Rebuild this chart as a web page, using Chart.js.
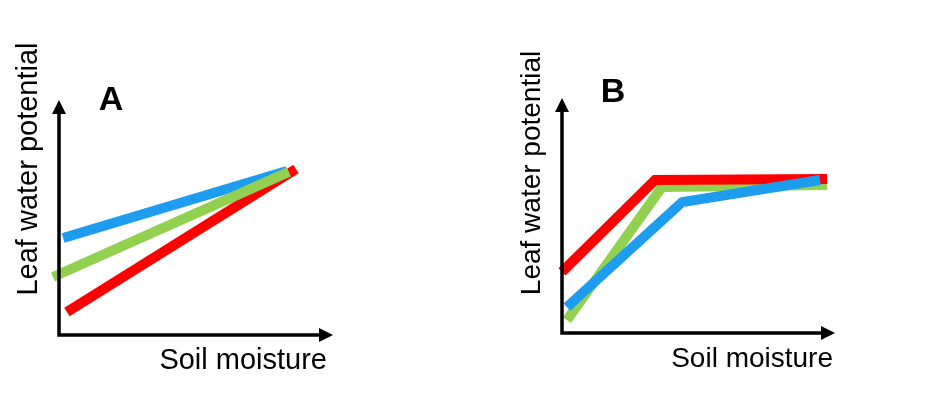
<!DOCTYPE html>
<html>
<head>
<meta charset="utf-8">
<script src="https://cdn.jsdelivr.net/npm/chart.js@4.4.1/dist/chart.umd.min.js"></script>
<style>
  html, body { margin: 0; padding: 0; background: #fff; }
  .wrap { position: relative; width: 925px; height: 395px; }
  .panel { position: absolute; top: 0; height: 395px; }
  #pa { left: 0; width: 462px; }
  #pb { left: 462px; width: 463px; }
</style>
</head>
<body>
<div class="wrap">
  <div class="panel" id="pa"><canvas id="chartA"></canvas></div>
  <div class="panel" id="pb"><canvas id="chartB"></canvas></div>
</div>
<script>
(function () {
    'use strict';

    // ── Data (arbitrary 0–10 units) ───────────────────────────────────────
    const A_BLUE_X  = [0.15, 8.32];
    const A_BLUE_Y  = [4.13, 6.98];
    const A_GREEN_X = [-0.22, 8.39];
    const A_GREEN_Y = [2.47, 6.94];
    const A_RED_X   = [0.29, 8.65];
    const A_RED_Y   = [0.98, 7.06];

    const B_RED_X   = [0.0, 3.41, 9.71];
    const B_RED_Y   = [2.6, 6.51, 6.55];
    const B_GREEN_X = [0.18, 3.66, 9.71];
    const B_GREEN_Y = [0.55, 6.21, 6.3];
    const B_BLUE_X  = [0.18, 4.4, 9.45];
    const B_BLUE_Y  = [1.1, 5.57, 6.51];

    const X_TITLE = 'Soil moisture';
    const Y_TITLE = 'Leaf water potential';

    const COLORS = {
        red:   '#ff0000',
        green: '#92d050',
        blue:  '#1e9cf0',
        axis:  '#000000',
    };

    const pts = (xs, ys) => xs.map((x, i) => ({ x, y: ys[i] }));

    const line = (xs, ys, color, order) => ({
        data:            pts(xs, ys),
        borderColor:     color,
        backgroundColor: color,
        borderWidth:     10,
        borderCapStyle:  'butt',
        borderJoinStyle: 'miter',
        pointRadius:     0,
        showLine:        true,
        tension:         0,
        clip:            false,
        order,
    });

    // ── Axes with arrow heads + panel text ─────────────────────────────────
    const sketchAxes = {
        id: 'sketchAxes',
        afterDatasetsDraw(chart, args, opts) {
            const { ctx, chartArea: a } = chart;
            ctx.save();
            ctx.strokeStyle = COLORS.axis;
            ctx.fillStyle   = COLORS.axis;
            ctx.lineWidth   = 3.5;
            ctx.beginPath();
            ctx.moveTo(a.left, a.top + 8);
            ctx.lineTo(a.left, a.bottom);
            ctx.lineTo(a.right - 8, a.bottom);
            ctx.stroke();
            // up arrow
            ctx.beginPath();
            ctx.moveTo(a.left, a.top);
            ctx.lineTo(a.left - 7, a.top + 14);
            ctx.lineTo(a.left + 7, a.top + 14);
            ctx.closePath();
            ctx.fill();
            // right arrow
            ctx.beginPath();
            ctx.moveTo(a.right, a.bottom);
            ctx.lineTo(a.right - 14, a.bottom - 7);
            ctx.lineTo(a.right - 14, a.bottom + 7);
            ctx.closePath();
            ctx.fill();

            // panel letter
            ctx.font = 'bold 34px "Liberation Sans", Arial, sans-serif';
            ctx.textAlign = 'center';
            ctx.textBaseline = 'middle';
            ctx.fillText(opts.letter, a.left + opts.letterDx, a.top + opts.letterDy);

            // x title
            ctx.font = opts.titleFont;
            ctx.textAlign = 'right';
            ctx.fillText(X_TITLE, a.right - 6 + opts.xtDx, a.bottom + 26);

            // y title (rotated)
            ctx.translate(a.left - 30, a.top + opts.ytDy);
            ctx.rotate(-Math.PI / 2);
            ctx.textAlign = 'center';
            ctx.fillText(Y_TITLE, 0, 0);
            ctx.restore();
        }
    };

    const makeChart = (id, datasets, pad, plug) => new Chart(document.getElementById(id), {
        type: 'scatter',
        data: { datasets },
        options: {
            responsive:          true,
            maintainAspectRatio: false,
            animation:           false,
            layout: { padding: pad },
            plugins: {
                legend:  { display: false },
                tooltip: { enabled: false },
                sketchAxes: plug,
            },
            scales: {
                x: { display: false, min: 0, max: 10 },
                y: { display: false, min: 0, max: 10 },
            }
        },
        plugins: [sketchAxes]
    });

    // ── A ─────────────────────────────────────────────────────────────────
    makeChart('chartA', [
        line(A_BLUE_X,  A_BLUE_Y,  COLORS.blue,  3),
        line(A_RED_X,   A_RED_Y,   COLORS.red,   2),
        line(A_GREEN_X, A_GREEN_Y, COLORS.green, 1),
    ], { left: 59, right: 129, top: 100, bottom: 60 },
       { letter: 'A', letterDx: 52, letterDy: 1, xtDx: 0, ytDy: 69,
         titleFont: '29px "Liberation Sans", Arial, sans-serif' });

    // ── B ─────────────────────────────────────────────────────────────────
    makeChart('chartB', [
        line(B_GREEN_X, B_GREEN_Y, COLORS.green, 3),
        line(B_RED_X,   B_RED_Y,   COLORS.red,   2),
        line(B_BLUE_X,  B_BLUE_Y,  COLORS.blue,  1),
    ], { left: 100, right: 90, top: 98, bottom: 62 },
       { letter: 'B', letterDx: 51, letterDy: -5, xtDx: 4, ytDy: 75,
         titleFont: '28px "Liberation Sans", Arial, sans-serif' });

})();
</script>
</body>
</html>
